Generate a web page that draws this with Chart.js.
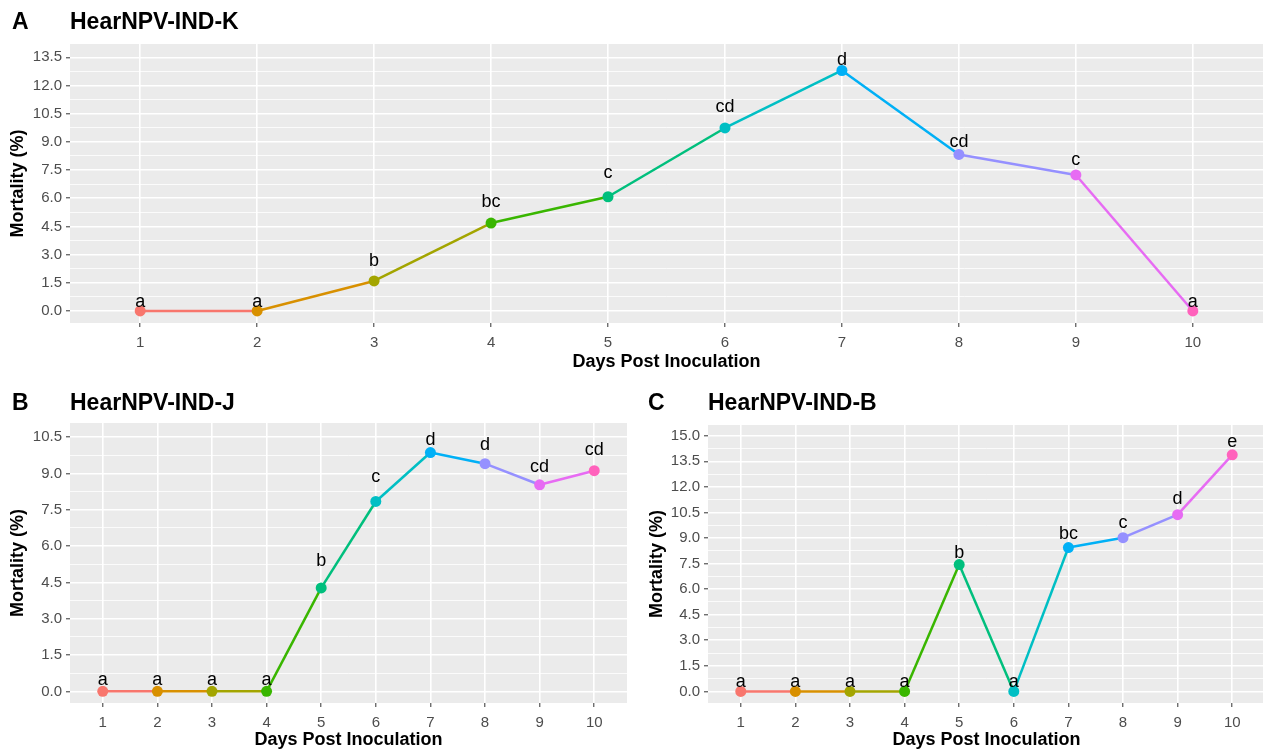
<!DOCTYPE html>
<html>
<head>
<meta charset="utf-8">
<script src="https://cdn.jsdelivr.net/npm/chart.js@4.4.1/dist/chart.umd.min.js"></script>
<style>
  body { margin: 0; background: #fff; width: 1263px; height: 751px; overflow: hidden; position: relative; }
  canvas { position: absolute; }
</style>
</head>
<body>
<canvas id="chartA" width="1263" height="375" style="left:0;top:0"></canvas>
<canvas id="chartB" width="637" height="376" style="left:0;top:375px"></canvas>
<canvas id="chartC" width="628" height="376" style="left:637px;top:375px"></canvas>
<script>
// days post inoculation
const days = [1, 2, 3, 4, 5, 6, 7, 8, 9, 10];

// HearNPV-IND-K
const mortalityK = [0, 0, 1.6, 4.68, 6.08, 9.74, 12.8, 8.33, 7.24, 0];
const lettersK = ['a', 'a', 'b', 'bc', 'c', 'cd', 'd', 'cd', 'c', 'a'];
const letterYK = [0.48, 0.48, 2.66, 5.8, 7.34, 10.87, 13.36, 9.0, 8.04, 0.48];
const ticksK = [0, 1.5, 3, 4.5, 6, 7.5, 9, 10.5, 12, 13.5];

// HearNPV-IND-J
const mortalityJ = [0, 0, 0, 0, 4.27, 7.84, 9.86, 9.4, 8.53, 9.11];
const lettersJ = ['a', 'a', 'a', 'a', 'b', 'c', 'd', 'd', 'cd', 'cd'];
const letterYJ = [0.48, 0.48, 0.48, 0.48, 5.37, 8.85, 10.39, 10.18, 9.26, 9.95];
const ticksJ = [0, 1.5, 3, 4.5, 6, 7.5, 9, 10.5];

// HearNPV-IND-B
const mortalityB = [0, 0, 0, 0, 7.44, 0, 8.44, 9.02, 10.37, 13.88];
const lettersB = ['a', 'a', 'a', 'a', 'b', 'a', 'bc', 'c', 'd', 'e'];
const letterYB = [0.53, 0.53, 0.53, 0.53, 8.1, 0.53, 9.26, 9.9, 11.3, 14.66];
const ticksB = [0, 1.5, 3, 4.5, 6, 7.5, 9, 10.5, 12, 13.5, 15];

// ggplot hue palette, one colour per day
const hue = ['#F8766D', '#D89000', '#A3A500', '#39B600', '#00BF7D',
             '#00BFC4', '#00B0F6', '#9590FF', '#E76BF3', '#FF62BC'];

Chart.defaults.font.family = '"Liberation Sans", Arial, sans-serif';
Chart.defaults.animation = false;

const ggPanel = {
    id: 'ggPanel',
    beforeDraw(chart, args, opts) {
        const { ctx, chartArea: a } = chart;
        ctx.save();
        ctx.fillStyle = '#EBEBEB';
        ctx.fillRect(a.left, a.top, a.right - a.left, a.bottom - a.top);
        ctx.fillStyle = '#000';
        ctx.font = 'bold 23px "Liberation Sans", Arial, sans-serif';
        ctx.textBaseline = 'middle';
        ctx.textAlign = 'left';
        ctx.fillText(opts.tag, opts.tagX, opts.titleY);
        ctx.fillText(opts.title, a.left, opts.titleY);
        ctx.restore();
    },
    afterDatasetsDraw(chart, args, opts) {
        const { ctx, scales } = chart;
        ctx.save();
        ctx.fillStyle = '#000';
        ctx.font = '18px "Liberation Sans", Arial, sans-serif';
        ctx.textAlign = 'center';
        ctx.textBaseline = 'middle';
        opts.letters.forEach((txt, i) => {
            ctx.fillText(txt, scales.x.getPixelForValue(days[i]), scales.y.getPixelForValue(opts.letterY[i]));
        });
        ctx.restore();
    }
};

function makeChart(id, p) {
    // major ticks from the list, minor ones half way between
    const all = [];
    p.ticks.forEach((v, i) => {
        all.push(v);
        if (i < p.ticks.length - 1) all.push((v + p.ticks[i + 1]) / 2);
    });
    const isMajor = v => p.ticks.some(t => Math.abs(t - v) < 1e-6);

    return new Chart(document.getElementById(id), {
        type: 'line',
        data: {
            datasets: [{
                data: days.map((d, i) => ({ x: d, y: p.values[i] })),
                borderWidth: 2.5,
                segment: { borderColor: c => hue[c.p0DataIndex] },
                pointRadius: 5.5,
                pointBackgroundColor: hue,
                pointBorderColor: hue,
                pointBorderWidth: 0,
                tension: 0
            }]
        },
        options: {
            responsive: false,
            layout: { padding: p.padding, autoPadding: false },
            plugins: {
                legend: { display: false },
                tooltip: { enabled: false },
                ggPanel: { tag: p.tag, title: p.title, tagX: p.tagX, titleY: p.titleY, letters: p.letters, letterY: p.letterY }
            },
            scales: {
                x: {
                    type: 'linear',
                    min: 0.4,
                    max: 10.6,
                    afterBuildTicks: s => { s.ticks = days.map(v => ({ value: v })); },
                    afterFit: s => { s.height = p.xh; },
                    ticks: { callback: v => String(v), autoSkip: false, maxRotation: 0, color: '#4D4D4D', font: { size: 15 }, padding: 7 },
                    grid: { color: '#fff', lineWidth: 1.6, tickColor: '#333', tickLength: 4, tickWidth: 1 },
                    border: { display: false },
                    title: { display: true, text: 'Days Post Inoculation', color: '#000', font: { size: 18, weight: 'bold' }, padding: { top: 0, bottom: p.xTitlePad } }
                },
                y: {
                    type: 'linear',
                    min: p.min,
                    max: p.max,
                    afterBuildTicks: s => { s.ticks = all.map(v => ({ value: v })); },
                    afterFit: s => { s.width = p.yw; },
                    ticks: { callback: v => isMajor(v) ? v.toFixed(1) : '', autoSkip: false, color: '#4D4D4D', font: { size: 15 }, padding: 4 },
                    grid: {
                        color: '#fff',
                        lineWidth: c => c.tick && isMajor(c.tick.value) ? 1.6 : 0.8,
                        tickColor: c => c.tick && isMajor(c.tick.value) ? '#333' : 'rgba(0,0,0,0)',
                        tickLength: 4,
                        tickWidth: 1
                    },
                    border: { display: false },
                    title: { display: true, text: 'Mortality (%)', color: '#000', font: { size: 18, weight: 'bold' }, padding: { top: p.yTitlePad, bottom: 0 } }
                }
            }
        },
        plugins: [ggPanel]
    });
}

makeChart('chartA', {
    tag: 'A', title: 'HearNPV-IND-K', tagX: 12, titleY: 23,
    values: mortalityK, letters: lettersK, letterY: letterYK, ticks: ticksK,
    min: -0.64, max: 14.21,
    padding: { top: 44, right: 0, left: 0, bottom: 0 },
    yw: 70, xh: 52, yTitlePad: 7, xTitlePad: 2
});

makeChart('chartB', {
    tag: 'B', title: 'HearNPV-IND-J', tagX: 12, titleY: 29,
    values: mortalityJ, letters: lettersJ, letterY: letterYJ, ticks: ticksJ,
    min: -0.48, max: 11.08,
    padding: { top: 48, right: 10, left: 0, bottom: 0 },
    yw: 70, xh: 48, yTitlePad: 7, xTitlePad: 0
});

makeChart('chartC', {
    tag: 'C', title: 'HearNPV-IND-B', tagX: 11, titleY: 29,
    values: mortalityB, letters: lettersB, letterY: letterYB, ticks: ticksB,
    min: -0.68, max: 15.63,
    padding: { top: 50, right: 0, left: 0, bottom: 0 },
    yw: 71, xh: 48, yTitlePad: 9, xTitlePad: 0
});
</script>
</body>
</html>
